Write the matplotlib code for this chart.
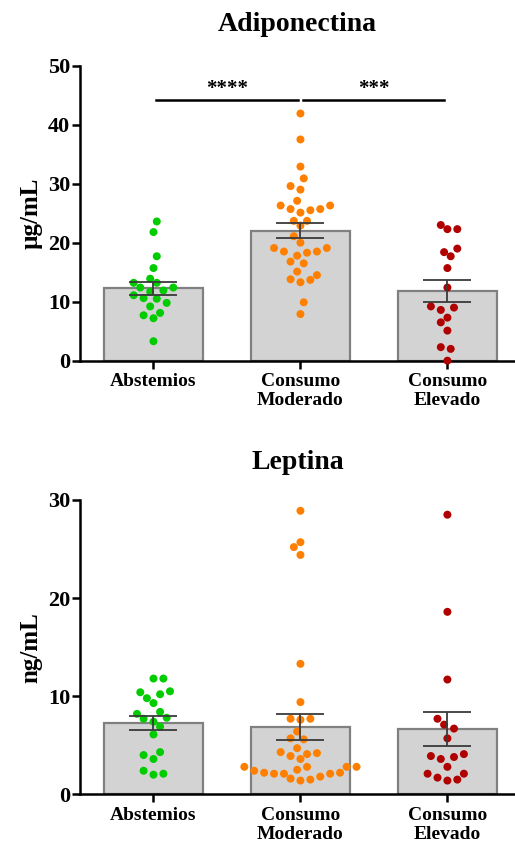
import numpy as np
import matplotlib
matplotlib.use('Agg')
import matplotlib.pyplot as plt

plt.rcParams['font.family'] = ['Liberation Serif', 'DejaVu Serif']
plt.rcParams['font.weight'] = 'bold'

groups = ['Abstemios', 'Consumo\nModerado', 'Consumo\nElevado']
colors = ['#00CC00', '#FF8000', '#B00000']

# Adiponectina (ug/mL)
adipo_abstemios = [23.6, 21.8, 17.7, 15.7, 13.2, 13.9, 13.2, 12.4, 12.4, 11.7,
                   11.9, 11.1, 10.6, 10.5, 9.8, 9.2, 8.1, 7.7, 7.2, 3.3]
adipo_moderado = [41.9, 37.5, 32.9, 30.9, 29.6, 29.0, 27.1, 26.3, 26.3, 25.7,
                  25.5, 25.7, 25.1, 23.7, 23.7, 22.9, 21.1, 20.0, 19.1, 19.1,
                  18.5, 18.5, 18.3, 17.8, 16.8, 16.5, 15.1, 14.5, 13.8, 13.3,
                  13.7, 9.9, 7.9]
adipo_elevado = [23.0, 22.3, 22.3, 19.0, 18.4, 17.7, 15.7, 12.4, 9.2, 8.6,
                 9.0, 7.3, 6.5, 5.1, 2.3, 2.0, 0.0]

# Leptina (ng/mL)
lep_abstemios = [11.8, 11.8, 10.5, 10.2, 10.4, 9.8, 9.3, 8.4, 8.2, 7.8,
                 7.7, 7.4, 6.9, 6.1, 4.0, 4.3, 3.6, 2.4, 2.0, 2.1]
lep_moderado = [28.9, 25.2, 25.7, 24.4, 13.3, 9.4, 7.7, 7.6, 7.7, 6.4,
                5.7, 5.6, 4.7, 4.2, 4.3, 3.9, 3.6, 4.1, 2.8, 2.8,
                2.8, 2.8, 2.5, 2.2, 2.1, 2.1, 2.4, 2.2, 2.1, 1.8,
                1.6, 1.4, 1.5]
lep_elevado = [28.5, 18.6, 11.7, 7.7, 7.1, 6.7, 5.7, 3.9, 3.6, 3.8,
               4.1, 2.8, 2.1, 1.7, 1.4, 1.5, 2.1]

# significance brackets for adiponectina: (from, to, label)
adipo_sig = [(0, 1, '****'), (1, 2, '***')]
adipo_sig_y = 44.2


def swarm_offsets(ax, values, step_px=3.3, rx=7.0, ry=12.0):
    # beeswarm on a fine column grid, elliptical collision test in pixels
    vals = np.asarray(values, dtype=float)
    pts = ax.transData.transform(np.column_stack([np.zeros(len(vals)), vals]))
    ys = pts[:, 1]
    x0 = ax.transData.transform([[0, 0]])[0, 0]
    x1 = ax.transData.transform([[1, 0]])[0, 0]
    px_per_unit = x1 - x0
    placed = []
    offs = np.zeros(len(vals))
    for n, i in enumerate(np.argsort(vals, kind='stable')):
        sign = -1 if n % 2 == 0 else 1
        cand = [0]
        for k in range(1, 40):
            cand += [sign * k, -sign * k]
        for k in cand:
            x = k * step_px
            ok = True
            for px, py in placed:
                if ((x - px) / rx) ** 2 + ((ys[i] - py) / ry) ** 2 < 1.0:
                    ok = False
                    break
            if ok:
                break
        placed.append((x, ys[i]))
        offs[i] = x / px_per_unit
    return offs


def draw_panel(ax, data, title, ylabel, ymax, ystep, title_pad,
               sig=None, sig_y=None):
    ax.set_xlim(-0.5, 2.46)
    ax.set_ylim(0, ymax)
    means = [np.mean(d) for d in data]
    sems = [np.std(d, ddof=1) / np.sqrt(len(d)) for d in data]
    xs = np.arange(len(data))
    ax.bar(xs, means, width=0.67, color='#d3d3d3', edgecolor='#808080',
           linewidth=1.6, zorder=2)
    for i, d in enumerate(data):
        offs = swarm_offsets(ax, d)
        ax.scatter(i + offs, d, s=33, color=colors[i], edgecolors='none',
                   zorder=3, clip_on=False)
    ax.errorbar(xs, means, yerr=sems, fmt='none', ecolor='#3a3a3a',
                elinewidth=1.3, capsize=17, capthick=1.3, zorder=4)

    for s in ['top', 'right']:
        ax.spines[s].set_visible(False)
    for s in ['left', 'bottom']:
        ax.spines[s].set_linewidth(1.8)
    ax.set_xticks(xs)
    ax.set_xticklabels(groups, fontsize=14, fontweight='bold', linespacing=1.15)
    ax.set_yticks(np.arange(0, ymax + 1, ystep))
    ax.tick_params(axis='y', length=6, width=1.8, pad=1, labelsize=16)
    ax.tick_params(axis='x', length=6, width=1.8, pad=3)
    ax.set_ylabel(ylabel, fontsize=18, fontweight='bold', labelpad=4)
    ax.set_title(title, fontsize=20, fontweight='bold', pad=title_pad)

    if sig:
        for a, b, lab in sig:
            ax.plot([a + 0.02, b - 0.02], [sig_y, sig_y], color='black',
                    lw=1.8, clip_on=False, zorder=5)
            ax.text((a + b) / 2, sig_y + 1.8, lab, ha='center', va='center',
                    fontsize=15, fontweight='bold', clip_on=False)


fig = plt.figure(figsize=(5.15, 8.49), dpi=100)
ax1 = fig.add_axes([80 / 515, 488.3 / 849, 435 / 515, 295 / 849])
ax2 = fig.add_axes([80 / 515, 54.7 / 849, 435 / 515, 294.3 / 849])

draw_panel(ax1, [adipo_abstemios, adipo_moderado, adipo_elevado],
           'Adiponectina', 'µg/mL', 50, 10, 25, adipo_sig, adipo_sig_y)
draw_panel(ax2, [lep_abstemios, lep_moderado, lep_elevado],
           'Leptina', 'ng/mL', 30, 10, 22)

fig.savefig('out.png', dpi=100)
